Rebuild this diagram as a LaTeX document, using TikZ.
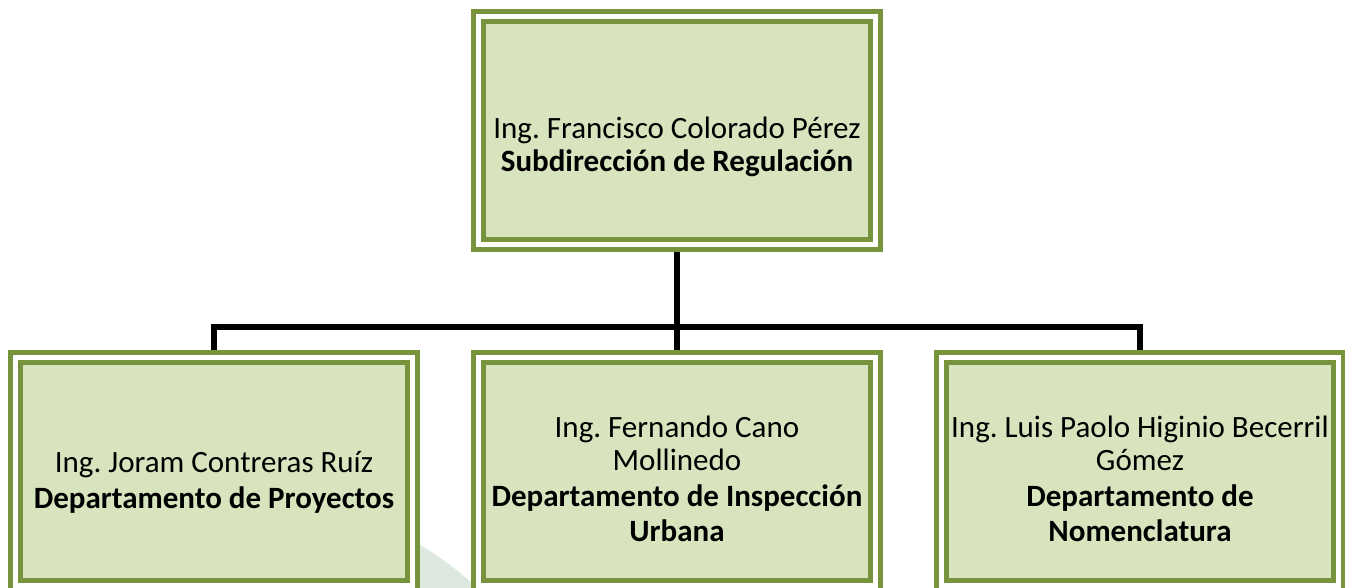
\documentclass[tikz,border=0pt]{standalone}
\usepackage{fontspec}
\setmainfont{Carlito}
\frenchspacing
\definecolor{verdeborde}{RGB}{119,147,60}
\definecolor{verdefondo}{RGB}{215,228,189}
\definecolor{marcaagua}{RGB}{221,232,222}

\begin{document}
\begin{tikzpicture}[level distance=341pt,sibling distance=463pt,
  every node/.style = {shape=rectangle, draw=verdeborde, line width=5pt, double=white, double distance=5pt,
    fill=verdefondo, outer sep=7.5pt, minimum width=397pt, minimum height=228pt, align=center,
    font=\fontsize{31}{33}\selectfont},
  edge from parent/.style = {draw, black, line width=5.5pt},
  edge from parent path = {(\tikzparentnode.south) -- ++(0,-75pt) -| (\tikzchildnode.north)}]

  \useasboundingbox (-677pt,130.5pt) rectangle (668pt,-457.5pt);
  % marca de agua del fondo
  \fill[marcaagua] (-427pt,-699.5pt) circle (332pt);

  \node (subd) {\rule{0pt}{55pt}Ing. Francisco Colorado Pérez\\ \textbf{Subdirección de Regulación}}
    child { node (proy) {\rule{0pt}{43pt}Ing. Joram Contreras Ruíz\\[3pt] \textbf{Departamento de Proyectos}} }
    child { node (insp) {\rule{0pt}{36pt}Ing. Fernando Cano\\ Mollinedo\\[3pt] \textbf{Departamento de Inspección}\\[2pt] \textbf{Urbana}} }
    child { node (nome) {\rule{0pt}{36pt}Ing. Luis Paolo Higinio Becerril\\ Gómez\\[3pt] \textbf{Departamento de}\\[2pt] \textbf{Nomenclatura}} };
\end{tikzpicture}
\end{document}
